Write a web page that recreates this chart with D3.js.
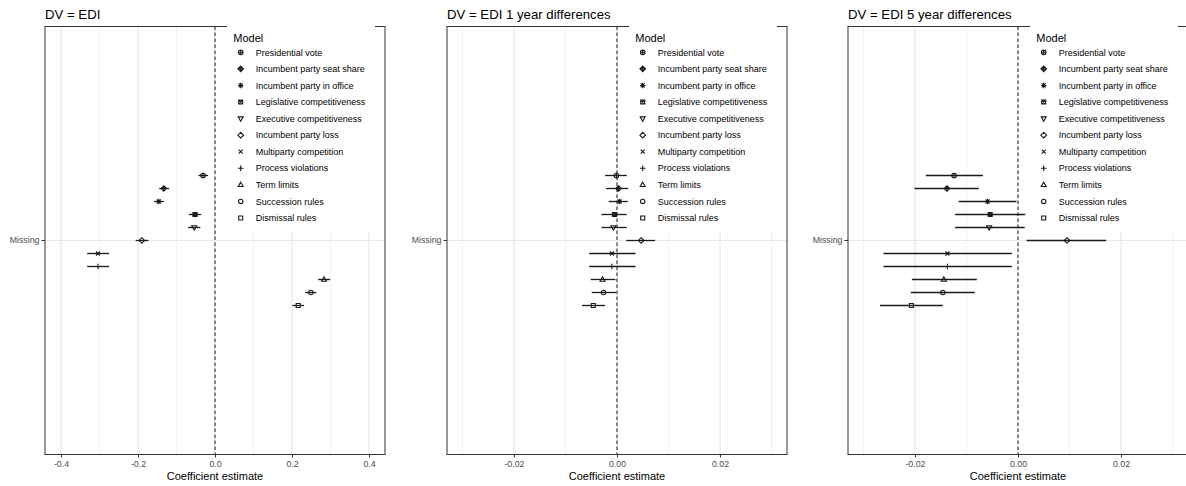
<!DOCTYPE html>
<html>
<head>
<meta charset="utf-8">
<script src="https://cdn.jsdelivr.net/npm/d3@7"></script>
<style>
  html, body { margin: 0; padding: 0; background: #fff; }
  svg { display: block; font-family: "Liberation Sans", Arial, Helvetica, sans-serif; }
</style>
</head>
<body>
<svg id="chart" width="1186" height="486"></svg>
<script>
// Model labels (top to bottom within the dodged group)
const models = [
  "Presidential vote",
  "Incumbent party seat share",
  "Incumbent party in office",
  "Legislative competitiveness",
  "Executive competitiveness",
  "Incumbent party loss",
  "Multiparty competition",
  "Process violations",
  "Term limits",
  "Succession rules",
  "Dismissal rules"
];

const category = ["Missing"];

const panelTitles = ["DV = EDI", "DV = EDI 1 year differences", "DV = EDI 5 year differences"];

// DV = EDI
const est1 = [-0.031, -0.133, -0.146, -0.052, -0.054, -0.190, -0.304, -0.304, 0.283, 0.249, 0.216];
const lo1  = [-0.043, -0.145, -0.158, -0.068, -0.070, -0.206, -0.332, -0.332, 0.268, 0.234, 0.201];
const hi1  = [-0.018, -0.119, -0.133, -0.036, -0.038, -0.173, -0.275, -0.275, 0.299, 0.263, 0.231];

// DV = EDI 1 year differences
const est2 = [-0.0001, 0.0003, 0.0005, -0.0005, -0.0007, 0.0047, -0.0010, -0.0010, -0.0028, -0.0026, -0.0046];
const lo2  = [-0.0023, -0.0021, -0.0016, -0.0030, -0.0030, 0.0018, -0.0054, -0.0054, -0.0051, -0.0049, -0.0068];
const hi2  = [0.0019, 0.0022, 0.0021, 0.0019, 0.0019, 0.0074, 0.0036, 0.0036, -0.0003, -0.0002, -0.0023];

// DV = EDI 5 year differences
const est3 = [-0.0124, -0.0138, -0.0059, -0.0054, -0.0056, 0.0095, -0.0137, -0.0137, -0.0144, -0.0146, -0.0207];
const lo3  = [-0.0179, -0.0201, -0.0115, -0.0122, -0.0122, 0.0017, -0.0261, -0.0261, -0.0206, -0.0208, -0.0268];
const hi3  = [-0.0068, -0.0076, -0.0003, 0.0014, 0.0013, 0.0171, -0.0012, -0.0012, -0.0080, -0.0084, -0.0146];

// Axis ticks
const majorTicks1 = [-0.4, -0.2, 0.0, 0.2, 0.4];
const minorTicks1 = [-0.3, -0.1, 0.1, 0.3];
const tickLabels1 = ["-0.4", "-0.2", "0.0", "0.2", "0.4"];
const majorTicks2 = [-0.02, 0.00, 0.02];
const minorTicks2 = [-0.03, -0.01, 0.01, 0.03];
const tickLabels2 = ["-0.02", "0.00", "0.02"];

const panels = [
  { title: panelTitles[0], est: est1, lo: lo1, hi: hi1, half: 0.4416, major: majorTicks1, minor: minorTicks1, labels: tickLabels1 },
  { title: panelTitles[1], est: est2, lo: lo2, hi: hi2, half: 0.0330, major: majorTicks2, minor: minorTicks2, labels: tickLabels2 },
  { title: panelTitles[2], est: est3, lo: lo3, hi: hi3, half: 0.0330, major: majorTicks2, minor: minorTicks2, labels: tickLabels2 }
];

// Layout
const panelLefts = [45, 447, 848];
const panelWidth = 340;
const plotTop = 26.5, plotBottom = 454.5;

// ggplot-style point shapes 10..0 for the models in order
const shapeIds = [10, 9, 8, 7, 6, 5, 4, 3, 2, 1, 0];

function shapePath(id, s) {
  const p = d3.path();
  const sq = () => { p.rect(-s, -s, 2 * s, 2 * s); };
  const circ = (r) => { p.moveTo(r, 0); p.arc(0, 0, r, 0, 2 * Math.PI); };
  const plus = (r) => { p.moveTo(-r, 0); p.lineTo(r, 0); p.moveTo(0, -r); p.lineTo(0, r); };
  const cross = (r) => { p.moveTo(-r, -r); p.lineTo(r, r); p.moveTo(-r, r); p.lineTo(r, -r); };
  const diamond = (r) => { p.moveTo(0, -r); p.lineTo(r, 0); p.lineTo(0, r); p.lineTo(-r, 0); p.closePath(); };
  switch (id) {
    case 0: sq(); break;
    case 1: circ(s * 1.1); break;
    case 2: p.moveTo(0, -s * 1.35); p.lineTo(s * 1.25, s * 0.85); p.lineTo(-s * 1.25, s * 0.85); p.closePath(); break;
    case 3: plus(s * 1.4); break;
    case 4: cross(s); break;
    case 5: diamond(s * 1.4); break;
    case 6: p.moveTo(0, s * 1.35); p.lineTo(s * 1.25, -s * 0.85); p.lineTo(-s * 1.25, -s * 0.85); p.closePath(); break;
    case 7: sq(); cross(s); break;
    case 8: plus(s * 1.35); cross(s); break;
    case 9: diamond(s * 1.4); plus(s * 1.4); break;
    case 10: circ(s * 1.15); plus(s * 1.15); break;
  }
  return p.toString();
}

const svg = d3.select("#chart");
const ink = "#1a1a1a";
const markSize = 2.0;

panels.forEach((pd, k) => {
  const left = panelLefts[k];
  const right = left + panelWidth;

  const x = d3.scaleLinear().domain([-pd.half, pd.half]).range([left, right]);
  const y = d3.scaleBand().domain(category).range([plotTop, plotBottom]);
  const dodge = d3.scalePoint().domain(models).range([-65, 65]);
  const yc = y("Missing") + y.bandwidth() / 2;

  const g = svg.append("g");

  // Grid lines
  g.selectAll(".minor").data(pd.minor).join("line")
    .attr("x1", d => x(d)).attr("x2", d => x(d))
    .attr("y1", plotTop).attr("y2", plotBottom)
    .attr("stroke", "#ebebeb").attr("stroke-width", 0.7);
  g.selectAll(".major").data(pd.major).join("line")
    .attr("x1", d => x(d)).attr("x2", d => x(d))
    .attr("y1", plotTop).attr("y2", plotBottom)
    .attr("stroke", "#e8e8e8").attr("stroke-width", 1.2);
  g.selectAll(".hmajor").data(category).join("line")
    .attr("x1", left).attr("x2", right)
    .attr("y1", d => y(d) + y.bandwidth() / 2).attr("y2", d => y(d) + y.bandwidth() / 2)
    .attr("stroke", "#e8e8e8").attr("stroke-width", 1.2);

  // Panel border
  g.append("rect")
    .attr("x", left).attr("y", plotTop)
    .attr("width", panelWidth).attr("height", plotBottom - plotTop)
    .attr("fill", "none").attr("stroke", "#333").attr("stroke-width", 1);

  // Zero reference line
  g.append("line")
    .attr("x1", x(0)).attr("x2", x(0))
    .attr("y1", plotTop).attr("y2", plotBottom)
    .attr("stroke", ink).attr("stroke-width", 1)
    .attr("stroke-dasharray", "3.5,2.5");

  // Bottom axis
  const xAxis = d3.axisBottom(x)
    .tickValues(pd.major)
    .tickSize(3)
    .tickPadding(3)
    .tickFormat((d, i) => pd.labels[i]);
  const ax = g.append("g").attr("transform", `translate(0,${plotBottom})`).call(xAxis);
  ax.select(".domain").remove();
  ax.selectAll(".tick line").attr("stroke", "#333");
  ax.selectAll(".tick text")
    .attr("fill", "#4d4d4d")
    .style("font-size", "8.8px")
    .style("font-family", "'Liberation Sans', Arial, sans-serif");

  // Left axis
  const yAxis = d3.axisLeft(y).tickSize(3.5).tickPadding(2);
  const ay = g.append("g").attr("transform", `translate(${left},0)`).call(yAxis);
  ay.select(".domain").remove();
  ay.selectAll(".tick line").attr("stroke", "#333");
  ay.selectAll(".tick text")
    .attr("fill", "#4d4d4d")
    .style("font-size", "8.8px")
    .style("font-family", "'Liberation Sans', Arial, sans-serif");

  // Axis title
  g.append("text")
    .attr("x", (left + right) / 2).attr("y", 480)
    .attr("text-anchor", "middle")
    .style("font-size", "11px")
    .attr("fill", "#000")
    .text("Coefficient estimate");

  // Panel title
  g.append("text")
    .attr("x", left).attr("y", 18.5)
    .style("font-size", "13.2px")
    .attr("fill", "#000")
    .text(pd.title);

  // Point ranges
  const rows = models.map((m, i) => ({ m, i, est: pd.est[i], lo: pd.lo[i], hi: pd.hi[i] }));
  g.selectAll(".range").data(rows).join("line")
    .attr("x1", d => x(d.lo)).attr("x2", d => x(d.hi))
    .attr("y1", d => yc + dodge(d.m)).attr("y2", d => yc + dodge(d.m))
    .attr("stroke", ink).attr("stroke-width", 1.3);
  g.selectAll(".pt").data(rows).join("path")
    .attr("transform", d => `translate(${x(d.est)},${yc + dodge(d.m)})`)
    .attr("d", d => shapePath(shapeIds[d.i], markSize))
    .attr("fill", "none").attr("stroke", ink).attr("stroke-width", 1.1);

  // Legend inside the panel (top right)
  const legRight = right - 10, legWidth = 148;
  const legLeft = legRight - legWidth;
  const lg = g.append("g");
  lg.append("rect")
    .attr("x", legLeft).attr("y", 20)
    .attr("width", legWidth).attr("height", 232 - 20)
    .attr("fill", "#fff");
  lg.append("text")
    .attr("x", legLeft + 6.3).attr("y", 42)
    .style("font-size", "11px")
    .attr("fill", "#000")
    .text("Model");
  const ly = d3.scalePoint().domain(models).range([52.3, 218]);
  lg.selectAll(".key").data(models).join("path")
    .attr("transform", d => `translate(${legLeft + 13.7},${ly(d)})`)
    .attr("d", (d, i) => shapePath(shapeIds[i], markSize))
    .attr("fill", "none").attr("stroke", ink).attr("stroke-width", 1.1);
  lg.selectAll(".lab").data(models).join("text")
    .attr("x", legLeft + 28.7).attr("y", d => ly(d) + 3.2)
    .style("font-size", "9px")
    .attr("fill", "#000")
    .text(d => d);
});
</script>
</body>
</html>
